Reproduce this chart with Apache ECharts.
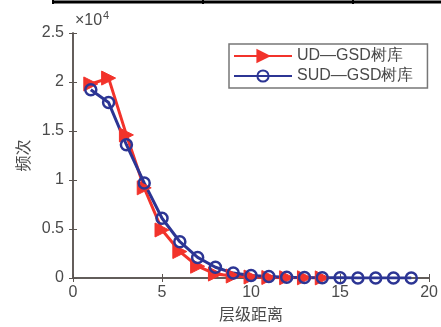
<!DOCTYPE html>
<html><head><meta charset="utf-8">
<script src="https://cdn.jsdelivr.net/npm/echarts@6/dist/echarts.min.js"></script>
<style>html,body{margin:0;padding:0;background:#fff}#c{width:441px;height:327px}</style>
</head><body><div id="c"></div>
<script>
const distUD = [1,2,3,4,5,6,7,8,9,10,11,12,13,14];
const freqUD = [19800,20400,14600,9200,4900,2700,1200,400,200,100,50,30,20,10];
const distSUD = [1,2,3,4,5,6,7,8,9,10,11,12,13,14,15,16,17,18,19];
const freqSUD = [19200,17900,13600,9700,6100,3700,2100,1100,500,250,150,80,50,30,20,10,10,5,5];
const xTicks = [0,5,10,15,20];
const yTicks = [0,0.5,1,1.5,2,2.5];
const seriesNames = ['UD\u2014GSD树库','SUD\u2014GSD树库'];

const red = '#f2332b', blue = '#2c3594', axisC = '#5a5450', txtC = '#4a4a4a';
const font = 'Liberation Sans, Arial, sans-serif';
const chart = echarts.init(document.getElementById('c'));
const axisCommon = {
  type:'value', axisLine:{show:true,lineStyle:{color:axisC,width:1.5}},
  axisTick:{show:true,inside:true,length:4,lineStyle:{color:axisC}},
  splitLine:{show:false}
};
chart.setOption({
  animation:false,
  grid:{left:73,right:5,top:33,bottom:49},
  xAxis:[
    Object.assign({}, axisCommon, {min:xTicks[0],max:xTicks[xTicks.length-1],interval:5,
      name:'层级距离',nameLocation:'middle',nameGap:28,
      nameTextStyle:{fontSize:16,color:txtC,fontFamily:'Noto Sans CJK SC'},
      axisLabel:{fontSize:16,color:txtC,fontFamily:font,margin:7}}),
    Object.assign({}, axisCommon, {position:'top',min:0,max:20,interval:5,axisLabel:{show:false}})
  ],
  yAxis:[
    Object.assign({}, axisCommon, {min:0,max:25000,interval:5000,
      name:'频次',nameLocation:'middle',nameGap:41,nameRotate:90,
      nameTextStyle:{fontSize:16,color:txtC,fontFamily:'Noto Sans CJK SC'},
      axisLabel:{fontSize:16,color:txtC,fontFamily:font,margin:9,
        formatter:v=>{const t=v/1e4; return yTicks.includes(t)?String(t):'';}}}),
    Object.assign({}, axisCommon, {position:'right',min:0,max:25000,interval:5000,axisLabel:{show:false}})
  ],
  legend:{
    orient:'vertical',left:229,top:44,itemWidth:58,itemHeight:14,itemGap:4,
    padding:[4,14,4,4],borderColor:'#777',borderWidth:1.5,backgroundColor:'#fff',
    textStyle:{fontSize:16,color:txtC,fontFamily:font},
    data:seriesNames
  },
  graphic:[
    {type:'text',x:75,y:13,style:{text:'×10',font:'16px "Liberation Sans", Arial, sans-serif',fill:txtC}},
    {type:'text',x:103,y:10,style:{text:'4',font:'11px "Liberation Sans", Arial, sans-serif',fill:txtC}},
    {type:'line',shape:{x1:52,y1:2,x2:441,y2:2},style:{stroke:'#000',lineWidth:3}},
    {type:'line',shape:{x1:53,y1:0,x2:53,y2:4},style:{stroke:'#000',lineWidth:2}},
    {type:'line',shape:{x1:203,y1:0,x2:203,y2:4},style:{stroke:'#000',lineWidth:2}},
    {type:'line',shape:{x1:353,y1:0,x2:353,y2:4},style:{stroke:'#000',lineWidth:2}}
  ],
  series:[
    {name:seriesNames[0],type:'line',data:distUD.map((d,i)=>[d,freqUD[i]]),
      symbol:'triangle',symbolRotate:-90,symbolSize:14,
      lineStyle:{color:red,width:3},itemStyle:{color:red,borderColor:red,borderWidth:1}},
    {name:seriesNames[1],type:'line',data:distSUD.map((d,i)=>[d,freqSUD[i]]),
      symbol:'circle',symbolSize:11,
      lineStyle:{color:blue,width:3},itemStyle:{color:'rgba(255,255,255,0)',borderColor:blue,borderWidth:2.5}}
  ]
});
</script></body></html>
